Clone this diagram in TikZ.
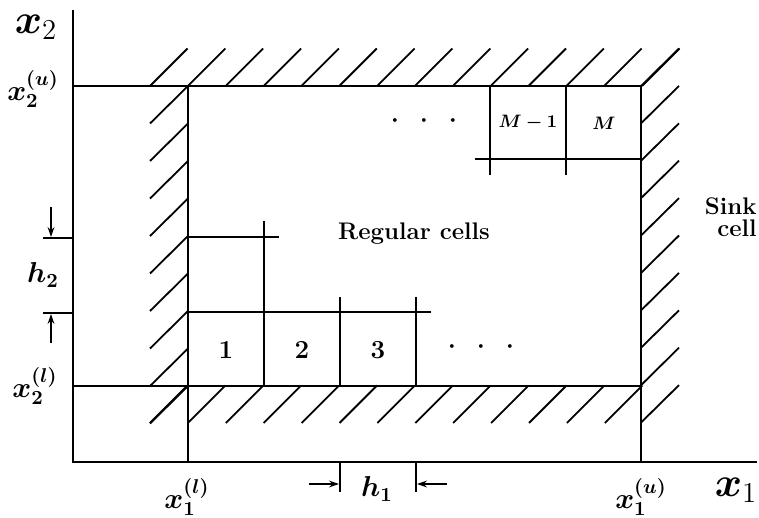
\documentclass[tikz,border=0pt]{standalone}
\usepackage{amsmath,bm}
\usetikzlibrary{arrows.meta}
\begin{document}
\begin{tikzpicture}[x=0.5pt,y=-0.5pt,
  edge/.style={line width=0.95pt},
  hatch/.style={line width=0.9pt},
  txt/.style={inner sep=0pt,font=\bfseries},
  arr/.style={-{Stealth[length=5pt,width=3.4pt]},line width=0.9pt}]
\useasboundingbox (0,0) rectangle (759,518);
% axes
\coordinate (O) at (73,462);
\coordinate (ytop) at (73,10);
\coordinate (xend) at (757,462);
\draw[edge] (ytop) -- (O) -- (xend);
% domain boundaries
\coordinate (TL) at (73,86); \coordinate (TR) at (641,86);
\coordinate (BL) at (73,386); \coordinate (BR) at (641,386);
\coordinate (LT) at (188,86); \coordinate (LB) at (188,462);
\coordinate (RB) at (641,462);
\draw[edge] (TL) -- (TR) -- (RB);
\draw[edge] (BL) -- (BR);
\draw[edge] (LT) -- (LB);
% hatching
\foreach \k in {0,...,13} \draw[hatch] ({150+37.85*\k},86) -- ++(37.5,-37.5);
\foreach \k in {0,...,8} \draw[hatch] (188,{86+37.5*\k}) -- ++(-38,37.5);
\foreach \k in {0,...,12} \draw[hatch] ({150+37.9*\k},423) -- ++(37.5,-37.5);
\foreach \k in {0,...,9} \draw[hatch] (641,{86+37.4*\k}) -- ++(38,-37.5);
% lower-left cells
\draw[edge] (188,312) -- (431,312);
\draw[edge] (188,237) -- (279,237);
\draw[edge] (264,221) -- (264,386);
\draw[edge] (340,297) -- (340,386);
\draw[edge] (416,297) -- (416,386);
% upper-right cells
\draw[edge] (490,86) -- (490,175);
\draw[edge] (566,86) -- (566,175);
\draw[edge] (475,159) -- (641,159);
% cell labels
\node[txt] (c1) at (226,350) {\fontsize{13}{15}\selectfont 1};
\node[txt] (c2) at (302,350) {\fontsize{13}{15}\selectfont 2};
\node[txt] (c3) at (378,350) {\fontsize{13}{15}\selectfont 3};
\node[txt] (dots1) at (481,347) {\fontsize{12}{14}\selectfont $\bm{\cdot}\hspace{8pt}\bm{\cdot}\hspace{8pt}\bm{\cdot}$};
\node[txt] (dots2) at (424,121) {\fontsize{12}{14}\selectfont $\bm{\cdot}\hspace{8pt}\bm{\cdot}\hspace{8pt}\bm{\cdot}$};
\node[txt] (cm1) at (528,123) {\fontsize{9}{11}\selectfont $\bm{M-1}$};
\node[txt] (cm) at (604,123) {\fontsize{9}{11}\selectfont $\bm{M}$};
\node[txt] (reg) at (414,234) {\fontsize{12}{14}\selectfont Regular cells};
\node[inner sep=0pt,align=right,anchor=north east,font=\bfseries\fontsize{12}{11}\selectfont] (sink) at (757,197) {Sink\\cell};
% axis labels
\node[inner sep=0pt] (lx2) at (36,27) {\fontsize{20}{22}\selectfont $\bm{x}_2$};
\node[inner sep=0pt] (lx1) at (736,490) {\fontsize{20}{22}\selectfont $\bm{x}_1$};
\node[inner sep=0pt] (lx2u) at (33,89) {\fontsize{14}{16}\selectfont $\bm{x}_{\bm{2}}^{\bm{(u)}}$};
\node[inner sep=0pt] (lx2l) at (35,386) {\fontsize{14}{16}\selectfont $\bm{x}_{\bm{2}}^{\bm{(l)}}$};
\node[inner sep=0pt] (lx1l) at (187,497) {\fontsize{14}{16}\selectfont $\bm{x}_{\bm{1}}^{\bm{(l)}}$};
\node[inner sep=0pt] (lx1u) at (641,497) {\fontsize{14}{16}\selectfont $\bm{x}_{\bm{1}}^{\bm{(u)}}$};
\node[inner sep=0pt] (lh2) at (43,275) {\fontsize{14}{16}\selectfont $\bm{h}_{\bm{2}}$};
\node[inner sep=0pt] (lh1) at (377,489) {\fontsize{14}{16}\selectfont $\bm{h}_{\bm{1}}$};
% h2 dimension
\draw[edge] (43,238) -- (73,238);
\draw[edge] (43,313) -- (73,313);
\coordinate (h2a) at (51,207); \coordinate (h2b) at (51,237);
\coordinate (h2c) at (51,343); \coordinate (h2d) at (51,314);
\draw[arr] (h2a) -- (h2b);
\draw[arr] (h2c) -- (h2d);
% h1 dimension
\draw[edge] (340,462) -- (340,492);
\draw[edge] (416,462) -- (416,492);
\coordinate (h1a) at (309,484); \coordinate (h1b) at (339,484);
\coordinate (h1c) at (447,484); \coordinate (h1d) at (417,484);
\draw[arr] (h1a) -- (h1b);
\draw[arr] (h1c) -- (h1d);
\end{tikzpicture}
\end{document}
